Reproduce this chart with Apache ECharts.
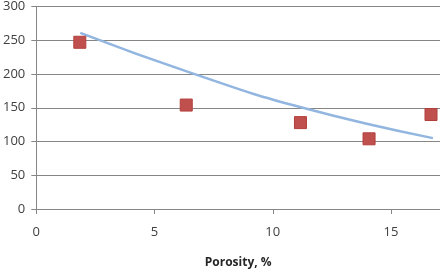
<!DOCTYPE html>
<html>
<head>
<meta charset="utf-8">
<script src="https://cdn.jsdelivr.net/npm/echarts@6/dist/echarts.min.js"></script>
<style>
  html, body { margin: 0; padding: 0; background: #fff; }
  #chart { width: 440px; height: 274px; }
</style>
</head>
<body>
<div id="chart"></div>
<script>
// measured points
var porosity = [1.84, 6.34, 11.17, 14.07, 16.69];
var strength = [247, 154, 128, 104, 140];

// trend line
var trendX = [1.86, 6.51, 11.15, 16.77];
var trendY = [261, 202, 151, 105];

var xTicks = [0, 5, 10, 15];
var yTicks = [0, 50, 100, 150, 200, 250, 300];

var pts = [];
for (var i = 0; i < porosity.length; i++) {
    pts.push([porosity[i], strength[i]]);
}
var trend = [];
for (var j = 0; j < trendX.length; j++) {
    trend.push([trendX[j], trendY[j]]);
}

var axisGray = '#868686';
var labelCol = '#404040';

var option = {
    animation: false,
    backgroundColor: '#fff',
    grid: { left: 36, right: 0, top: 6, bottom: 62, containLabel: false },
    xAxis: {
        type: 'value',
        min: xTicks[0],
        max: 17.07,
        interval: 5,
        name: 'Porosity, %',
        nameLocation: 'middle',
        nameGap: 48,
        nameTextStyle: { fontFamily: 'Open Sans', fontSize: 12, fontWeight: 'bold', color: '#262626' },
        axisLine: { show: true, onZero: false, lineStyle: { color: axisGray, width: 1 } },
        axisTick: { show: true, length: 5, lineStyle: { color: axisGray } },
        axisLabel: { margin: 17, fontFamily: 'Open Sans', fontSize: 13, color: labelCol, showMaxLabel: false },
        splitLine: { show: false }
    },
    yAxis: {
        type: 'value',
        min: yTicks[0],
        max: yTicks[yTicks.length - 1],
        interval: 50,
        axisLine: { show: true, lineStyle: { color: axisGray, width: 1 } },
        axisTick: { show: true, length: 5, lineStyle: { color: axisGray } },
        axisLabel: { margin: 11, fontFamily: 'Open Sans', fontSize: 13, color: labelCol },
        splitLine: { show: true, lineStyle: { color: axisGray, width: 1 } }
    },
    series: [
        {
            type: 'line',
            data: trend,
            smooth: true,
            showSymbol: false,
            lineStyle: { color: '#92b6e0', width: 2.5 },
            z: 2
        },
        {
            type: 'scatter',
            data: pts,
            symbol: 'rect',
            symbolSize: 12,
            itemStyle: { color: '#c0504d', borderColor: '#b23f3c', borderWidth: 1, opacity: 1 },
            z: 3
        }
    ]
};

var chart = echarts.init(document.getElementById('chart'));
chart.setOption(option);
</script>
</body>
</html>
